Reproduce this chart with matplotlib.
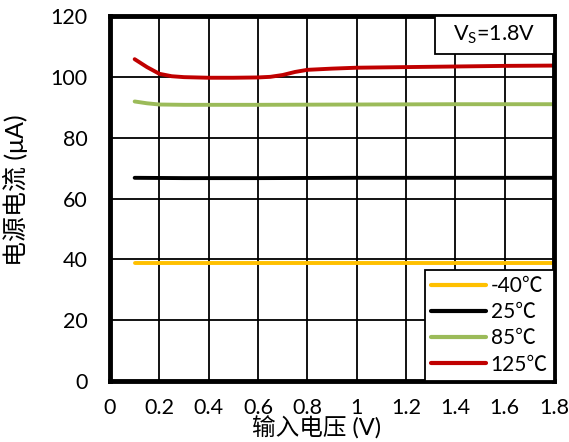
import matplotlib
matplotlib.use("Agg")
import matplotlib.pyplot as plt
from matplotlib.patches import Rectangle
import numpy as np

plt.rcParams['font.family'] = ['Lato', 'Noto Sans CJK SC', 'DejaVu Sans']
plt.rcParams['mathtext.fontset'] = 'custom'
plt.rcParams['mathtext.rm'] = 'Lato'
plt.rcParams['mathtext.it'] = 'Lato'

x_m40 = [0.1, 0.3, 0.6, 1.0, 1.4, 1.8]
y_m40 = [38.7, 38.7, 38.7, 38.7, 38.7, 38.7]
x_25 = [0.1, 0.3, 0.6, 1.0, 1.4, 1.8]
y_25 = [66.8, 66.7, 66.7, 66.8, 66.8, 66.8]
x_85 = [0.1, 0.15, 0.2, 0.3, 0.6, 1.0, 1.4, 1.8]
y_85 = [91.9, 91.3, 90.9, 90.8, 90.8, 90.9, 91.0, 91.0]
x_125 = [0.1, 0.15, 0.2, 0.25, 0.3, 0.4, 0.5, 0.6, 0.65, 0.7, 0.75, 0.8, 0.9, 1.0, 1.2, 1.4, 1.6, 1.8]
y_125 = [105.8, 103.2, 101.0, 100.2, 99.9, 99.7, 99.7, 99.8, 100.0, 100.6, 101.6, 102.3, 102.7, 103.0, 103.2, 103.4, 103.6, 103.7]

labels = ['-40℃', '25℃', '85℃', '125℃']
colors = ['#FFC000', '#000000', '#9BBB59', '#C00000']
xticks = [0, 0.2, 0.4, 0.6, 0.8, 1, 1.2, 1.4, 1.6, 1.8]
xticklabels = ['0', '0.2', '0.4', '0.6', '0.8', '1', '1.2', '1.4', '1.6', '1.8']
yticks = [0, 20, 40, 60, 80, 100, 120]

fig = plt.figure(figsize=(5.69, 4.42), dpi=100)
ax = fig.add_axes([110/569, 1-381/442, 444/569, 365/442])

for xs, ys, lab, c in zip([x_m40, x_25, x_85, x_125], [y_m40, y_25, y_85, y_125], labels, colors):
    ax.plot(xs, ys, color=c, lw=2.8, label=lab, solid_capstyle='round')

ax.set_xlim(0, 1.8)
ax.set_ylim(0, 120)
ax.set_xticks(xticks)
ax.set_xticklabels(xticklabels)
ax.set_yticks(yticks)
ax.grid(True, color='black', lw=1.3)
ax.set_axisbelow(True)
for s in ax.spines.values():
    s.set_linewidth(3.5)
    s.set_color('black')
ax.tick_params(length=0, labelsize=15.5)
ax.tick_params(axis='x', pad=12)
ax.tick_params(axis='y', pad=16)
ax.set_xlabel('输入电压 (V)', fontsize=17)
ax.xaxis.set_label_coords(0.466, -0.097)
ax.set_ylabel('电源电流 (μA)', fontsize=18)
ax.yaxis.set_label_coords(-0.185, 0.523)

leg = ax.legend(loc='lower right', fontsize=15, frameon=True, fancybox=False,
                borderaxespad=0, handlelength=2.65, handletextpad=0.2,
                labelspacing=0.3, borderpad=0.3)
leg.get_frame().set_edgecolor('black')
leg.get_frame().set_linewidth(1.3)
leg.get_frame().set_alpha(1)
for h in leg.get_lines():
    h.set_linewidth(3)

ax.add_patch(Rectangle((0.732, 0.896), 0.268, 0.104, transform=ax.transAxes,
                       fc='white', ec='black', lw=1.3, zorder=5))
ax.text(0.865, 0.948, r'V$_\mathrm{S}$=1.8V', transform=ax.transAxes, fontsize=15.5,
        ha='center', va='center', zorder=6)

fig.savefig('out.png', dpi=100)
